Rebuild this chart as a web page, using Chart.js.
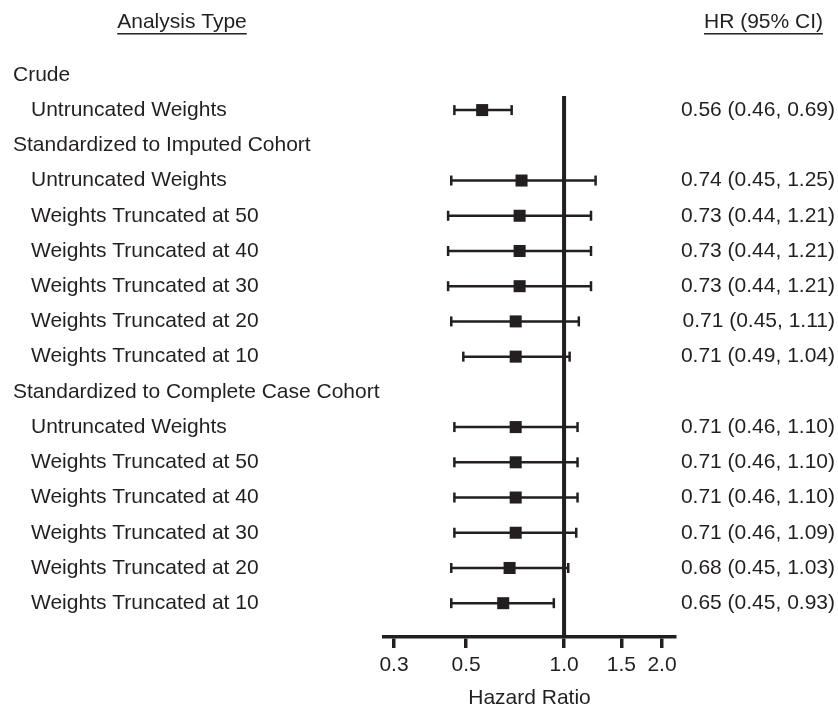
<!DOCTYPE html>
<html>
<head>
<meta charset="utf-8">
<script src="https://cdn.jsdelivr.net/npm/chart.js@4"></script>
<style>
  html, body { margin: 0; padding: 0; background: #fff; }
  #wrap { width: 838px; height: 708px; position: relative; }
</style>
</head>
<body>
<div id="wrap"><canvas id="forest"></canvas></div>
<script>
// rows, top to bottom
const rowLabels = [
  'Crude',
  'Untruncated Weights',
  'Standardized to Imputed Cohort',
  'Untruncated Weights',
  'Weights Truncated at 50',
  'Weights Truncated at 40',
  'Weights Truncated at 30',
  'Weights Truncated at 20',
  'Weights Truncated at 10',
  'Standardized to Complete Case Cohort',
  'Untruncated Weights',
  'Weights Truncated at 50',
  'Weights Truncated at 40',
  'Weights Truncated at 30',
  'Weights Truncated at 20',
  'Weights Truncated at 10'
];
const rowIndent = [0, 1, 0, 1, 1, 1, 1, 1, 1, 0, 1, 1, 1, 1, 1, 1];
const hr    = [null, 0.56, null, 0.74, 0.73, 0.73, 0.73, 0.71, 0.71, null, 0.71, 0.71, 0.71, 0.71, 0.68, 0.65];
const lower = [null, 0.46, null, 0.45, 0.44, 0.44, 0.44, 0.45, 0.49, null, 0.46, 0.46, 0.46, 0.46, 0.45, 0.45];
const upper = [null, 0.69, null, 1.25, 1.21, 1.21, 1.21, 1.11, 1.04, null, 1.10, 1.10, 1.10, 1.09, 1.03, 0.93];
const xTicks = [0.3, 0.5, 1.0, 1.5, 2.0];
const refValue = 1.0;

const INK = '#231f20';
const FONT = "'Liberation Sans', Arial, Helvetica, sans-serif";
const FS = 21;
Chart.defaults.font.family = FONT;
Chart.defaults.color = INK;

// build datasets from the arrays
const ciLine = [], caps = [], markers = [];
hr.forEach((v, i) => {
  if (v == null) return;
  ciLine.push({ x: lower[i], y: i }, { x: upper[i], y: i }, { x: null, y: null });
  caps.push({ x: lower[i], y: i }, { x: upper[i], y: i });
  markers.push({ x: v, y: i });
});

const fmt = v => v.toFixed(2);

// text columns + reference line
const forestText = {
  id: 'forestText',
  afterDatasetsDraw(chart) {
    const { ctx, chartArea, scales: { x, y } } = chart;
    ctx.save();
    // line of no effect
    const rx = x.getPixelForValue(refValue);
    ctx.strokeStyle = INK;
    ctx.lineWidth = 4;
    ctx.beginPath();
    ctx.moveTo(rx, chartArea.top);
    ctx.lineTo(rx, chartArea.bottom);
    ctx.stroke();

    ctx.fillStyle = INK;
    ctx.font = FS + 'px ' + FONT;
    ctx.textBaseline = 'middle';
    rowLabels.forEach((lab, i) => {
      const py = y.getPixelForValue(i);
      ctx.textAlign = 'left';
      ctx.fillText(lab, rowIndent[i] ? 31 : 13, py);
      if (hr[i] != null) {
        ctx.textAlign = 'right';
        ctx.fillText(`${fmt(hr[i])} (${fmt(lower[i])}, ${fmt(upper[i])})`, 835, py);
      }
    });

    // column headers, underlined
    const hy = y.getPixelForValue(-1.5);
    const header = (txt, xx, align) => {
      ctx.textAlign = align;
      ctx.fillText(txt, xx, hy);
      const w = ctx.measureText(txt).width;
      const x0 = align === 'right' ? xx - w : xx - w / 2;
      ctx.fillRect(x0, hy + 11, w, 1.5);
    };
    header('Analysis Type', 182, 'center');
    header('HR (95% CI)', 823, 'right');
    ctx.restore();
  }
};

new Chart(document.getElementById('forest'), {
  type: 'scatter',
  data: {
    datasets: [
      {
        type: 'line', data: ciLine, borderColor: INK, borderWidth: 2.5,
        pointRadius: 0, spanGaps: false, fill: false
      },
      {
        data: caps, pointStyle: 'line', rotation: 90, pointRadius: 5,
        borderColor: INK, borderWidth: 2.5, pointHoverRadius: 5
      },
      {
        data: markers, pointStyle: 'rect', pointRadius: 8.5,
        backgroundColor: INK, borderColor: INK, borderWidth: 0, pointHoverRadius: 8.5
      }
    ]
  },
  options: {
    responsive: true,
    maintainAspectRatio: false,
    animation: false,
    layout: { padding: { left: 384, right: 163, top: 96, bottom: 0 } },
    plugins: { legend: { display: false }, tooltip: { enabled: false } },
    scales: {
      x: {
        type: 'logarithmic',
        min: 0.2795, max: 2.193,
        afterBuildTicks: s => { s.ticks = xTicks.map(v => ({ value: v })); },
        afterFit: s => { s.height = 71; },
        border: { display: true, width: 3.5, color: INK },
        grid: { drawOnChartArea: false, drawTicks: true, tickLength: 11, tickWidth: 3.5, tickColor: INK, lineWidth: 3.5, color: INK },
        ticks: {
          autoSkip: false, maxRotation: 0, padding: 5,
          font: { size: FS }, color: INK,
          callback: v => Number(v).toFixed(1)
        },
        title: { display: true, text: 'Hazard Ratio', font: { size: FS }, color: INK, padding: { top: 0, bottom: -3 } }
      },
      y: {
        type: 'linear', reverse: true, display: false,
        min: 0.6, max: 15.96
      }
    }
  },
  plugins: [forestText]
});
</script>
</body>
</html>
